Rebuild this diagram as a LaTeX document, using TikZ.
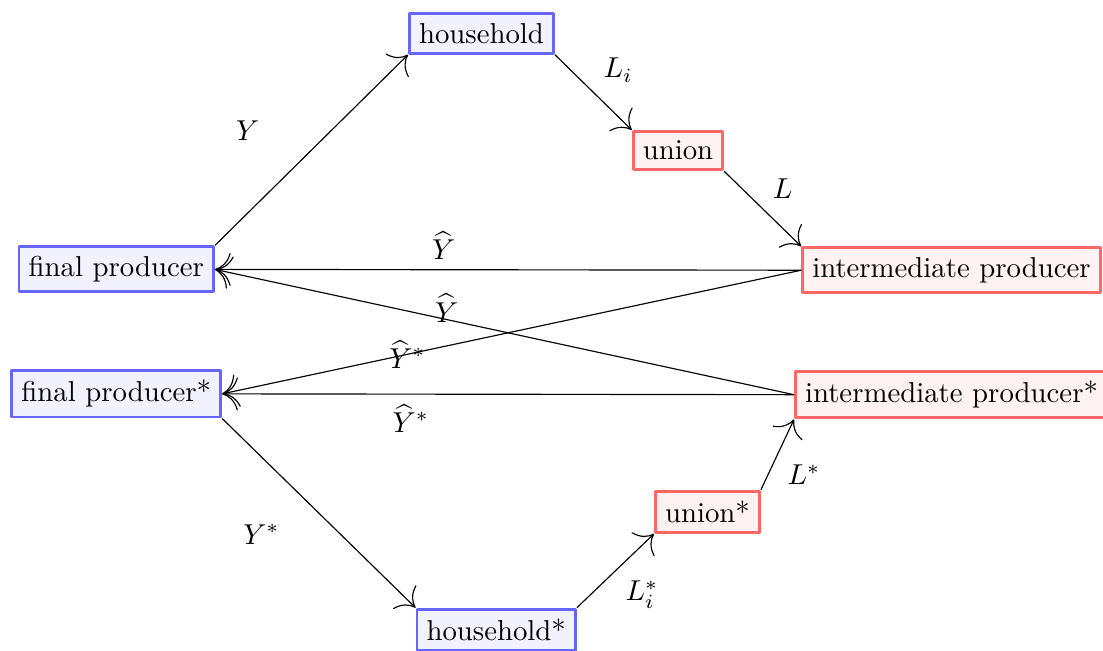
\documentclass[tikz,border=0pt]{standalone}
\usetikzlibrary{arrows.meta}
\begin{document}
\begin{tikzpicture}[>={To[scale=2.2]}, line join=round, thin,
	agent/.style={draw=blue!60, fill=blue!5, line width=1pt},
	firm/.style={draw=red!60, fill=red!5, line width=1pt}]
	\useasboundingbox (0,0) rectangle (13.47,-7.94);
	\node[agent] (hh) at (5.88,-0.41) {household};
	\node[firm] (un) at (8.28,-1.84) {union};
	\node[firm] (ip) at (11.62,-3.30) {intermediate producer};
	\node[agent] (fp) at (1.42,-3.29) {final producer};
	\node[agent] (fps) at (1.42,-4.81) {final producer*};
	\node[firm] (ips) at (11.62,-4.82) {intermediate producer*};
	\node[firm] (uns) at (8.64,-6.25) {union*};
	\node[agent] (hhs) at (6.06,-7.69) {household*};
	\draw[->] (fp.north east)--(hh.south west) node[midway, xshift=-0.78cm, yshift=0.24cm] (lY) {$Y$};
	\draw[->] (hh.south east)--(un.north west) node[midway, above right] (lLi) {$L_i$};
	\draw[->] (un.south east)--(ip.north west) node[midway, above right] (lL) {$L$};
	\draw[->] (ip.west)--(fp.east) node[pos=0.61, above] (lYh) {$\widehat{Y}$};
	\draw[->] (ips.west)--(fp.east) node[pos=0.6, yshift=4pt] (lYhx) {$\widehat{Y}$};
	\draw[->] (ip.west)--(fps.east) node[pos=0.68] (lYhsx) {$\widehat{Y}^*$};
	\draw[->] (ips.west)--(fps.east) node[pos=0.67, below] (lYhs) {$\widehat{Y}^*$};
	\draw[->] (fps.south east)--(hhs.north west) node[midway, xshift=-0.7cm, yshift=-0.26cm] (lYs) {$Y^*$};
	\draw[->] (hhs.north east)--(uns.south west) node[midway, below right] (lLis) {$L_i^*$};
	\draw[->] (uns.north east)--(ips.south west) node[midway, below right] (lLs) {$L^*$};
\end{tikzpicture}
\end{document}
